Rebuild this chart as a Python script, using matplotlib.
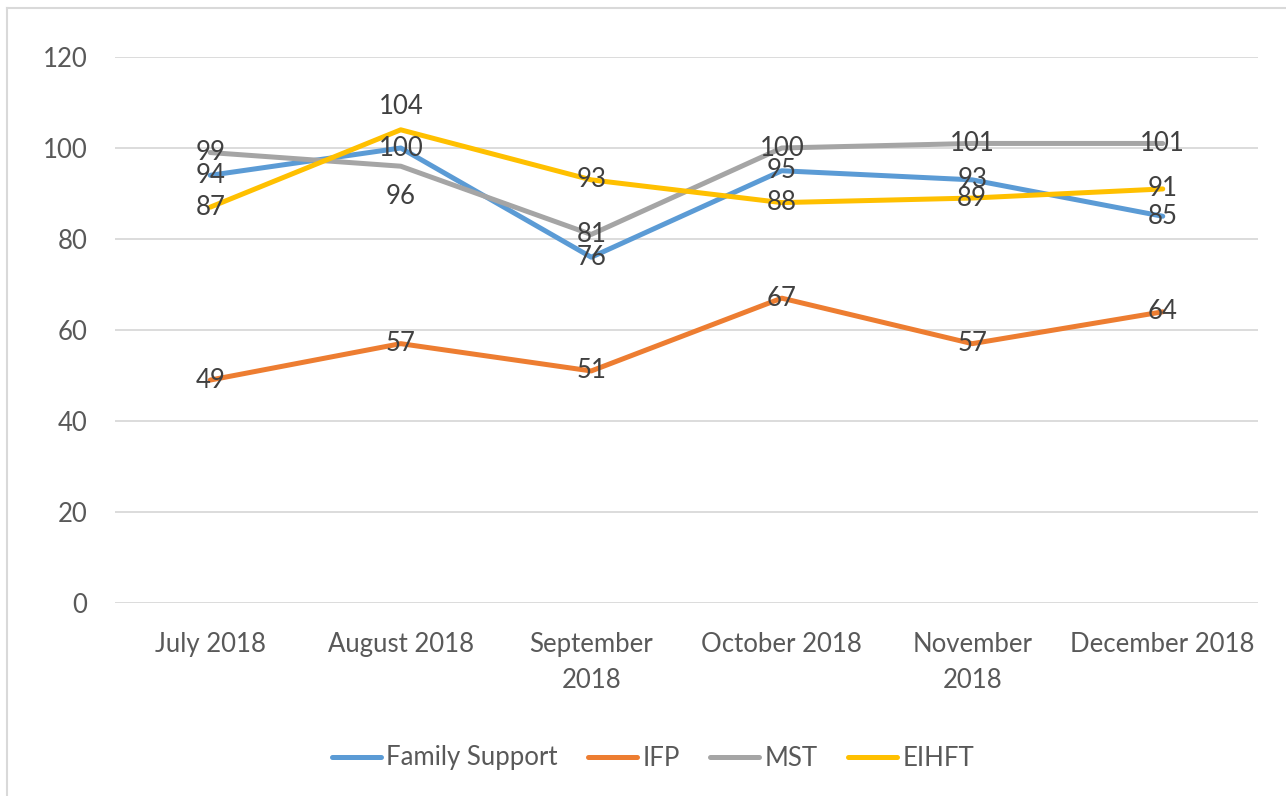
import matplotlib
matplotlib.use("Agg")
import matplotlib.pyplot as plt
from matplotlib.lines import Line2D

months = ["July 2018", "August 2018", "September\n2018", "October 2018", "November\n2018", "December 2018"]
family_support = [94, 100, 76, 95, 93, 85]
ifp = [49, 57, 51, 67, 57, 64]
mst = [99, 96, 81, 100, 101, 101]
eihft = [87, 104, 93, 88, 89, 91]

series = [
    ("Family Support", family_support, "#5B9BD5"),
    ("IFP", ifp, "#ED7D31"),
    ("MST", mst, "#A5A5A5"),
    ("EIHFT", eihft, "#FFC000"),
]

plt.rcParams['font.family'] = ['Lato', 'DejaVu Sans']
FS = 18.5

fig = plt.figure(figsize=(12.86, 7.96), dpi=100)
ax = fig.add_axes([115/1286, 1-603/796, (1258-115)/1286, (603-57)/796])

x = list(range(len(months)))
for name, vals, col in series:
    ax.plot(x, vals, color=col, lw=3.6, label=name, solid_capstyle='round', zorder=3)

# data labels
offsets = {("EIHFT", 1): 23, ("MST", 1): -30}
for name, vals, col in series:
    for i, v in enumerate(vals):
        dy = offsets.get((name, i), 0)
        ax.annotate(str(v), (i, v), xytext=(0, dy), textcoords='offset pixels',
                    ha='center', va='center', fontsize=FS, color='#404040', zorder=4)

ax.set_xlim(-0.5, 5.5)
ax.set_ylim(0, 120)
ax.set_yticks(range(0, 121, 20))
ax.set_xticks(x)
ax.set_xticklabels(months, linespacing=1.55)
ax.grid(axis='y', color='#D9D9D9', lw=1.3, zorder=0)
ax.tick_params(length=0, labelsize=FS, labelcolor='#595959')
ax.tick_params(axis='y', pad=20)
ax.tick_params(axis='x', pad=21)
for s in ax.spines.values():
    s.set_visible(False)

handles = [Line2D([0], [0], color=c, lw=3.6, solid_capstyle='round') for _, _, c in series]
labels = [n for n, _, _ in series]
leg = fig.legend(handles, labels, loc='center', bbox_to_anchor=(653/1286, 1-758/796), ncol=4,
                 frameon=False, fontsize=FS, handlelength=1.9, handletextpad=0.2, columnspacing=1.2)
for t in leg.get_texts():
    t.set_color('#595959')

# chart border
fig.add_artist(Line2D([7/1286, 7/1286], [0, 1-8/796], transform=fig.transFigure, color='#D9D9D9', lw=1.5))
fig.add_artist(Line2D([7/1286, 1], [1-8/796, 1-8/796], transform=fig.transFigure, color='#D9D9D9', lw=1.5))

fig.savefig("out.png", dpi=100)
